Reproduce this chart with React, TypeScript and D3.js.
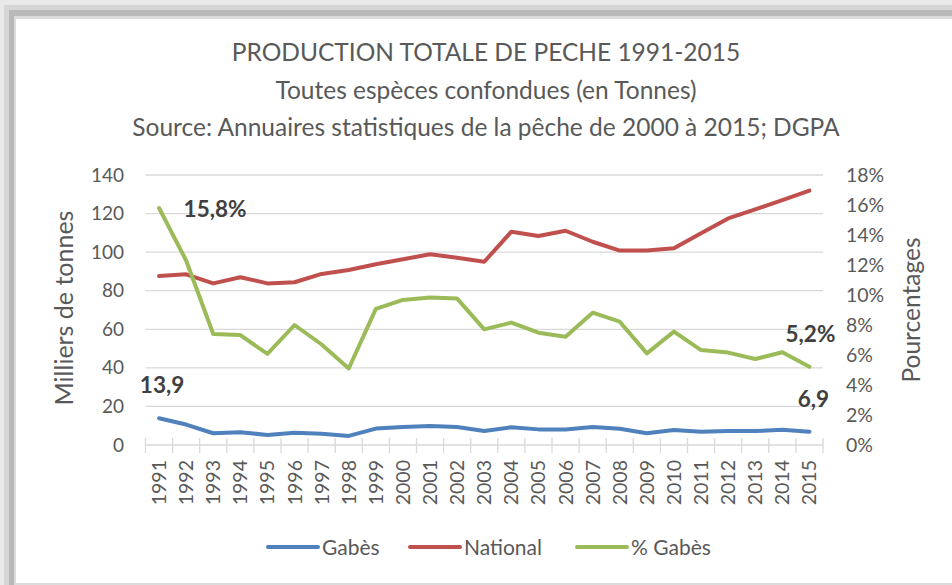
import { useEffect, useRef } from "react";
import * as d3 from "d3";

const years = [
  "1991", "1992", "1993", "1994", "1995", "1996", "1997", "1998", "1999", "2000",
  "2001", "2002", "2003", "2004", "2005", "2006", "2007", "2008", "2009", "2010",
  "2011", "2012", "2013", "2014", "2015",
];

// milliers de tonnes
const gabes = [
  13.9, 10.6, 6.1, 6.6, 5.2, 6.4, 5.8, 4.7, 8.5, 9.3,
  9.8, 9.3, 7.3, 9.2, 8.1, 8.0, 9.3, 8.4, 6.1, 7.8,
  6.9, 7.3, 7.2, 7.9, 6.9,
];
const national = [
  87.6, 88.5, 83.8, 87.0, 83.8, 84.4, 88.7, 90.7, 93.7, 96.3,
  98.9, 97.1, 95.0, 110.6, 108.4, 111.1, 105.4, 100.8, 100.8, 102.0,
  109.8, 117.5, 122.2, 127.0, 131.9,
];
// pourcentages
const pctGabes = [
  15.8, 12.3, 7.4, 7.33, 6.07, 8.0, 6.7, 5.1, 9.07, 9.67,
  9.84, 9.76, 7.71, 8.16, 7.49, 7.22, 8.82, 8.22, 6.11, 7.56,
  6.33, 6.16, 5.73, 6.18, 5.22,
];

const leftTicks = [0, 20, 40, 60, 80, 100, 120, 140];
const rightTicks = [0, 2, 4, 6, 8, 10, 12, 14, 16, 18];

const titleLines = [
  "PRODUCTION TOTALE DE PECHE 1991-2015",
  "Toutes espèces confondues (en Tonnes)",
  "Source: Annuaires statistiques de la pêche de 2000 à 2015; DGPA",
];

const legendItems = [
  { name: "Gabès", color: "#4f81bd" },
  { name: "National", color: "#c0504d" },
  { name: "% Gabès", color: "#9bbb59" },
];

function PecheChart() {
  const ref = useRef<SVGSVGElement>(null);

  useEffect(() => {
    const svg = d3.select(ref.current);
    svg.selectAll("*").remove();

    const width = 952;
    const height = 585;
    const font = "Lato, 'Open Sans', sans-serif";
    const textColor = "#595959";
    const plot = { left: 145.5, right: 823, top: 175, bottom: 445 };

    // frame / shadow
    svg.append("rect").attr("width", width).attr("height", height).attr("fill", "#e9e9e9");
    svg.append("rect").attr("x", 4).attr("y", 5).attr("width", width).attr("height", height).attr("fill", "#d6d6d6");
    svg.append("rect").attr("x", 9).attr("y", 10).attr("width", width).attr("height", height).attr("fill", "#b9b9b9");
    svg.append("rect").attr("x", 14).attr("y", 16).attr("width", width).attr("height", height).attr("fill", "#dcdcdc");
    svg.append("rect").attr("x", 16).attr("y", 19).attr("width", width).attr("height", 564).attr("fill", "#ffffff");

    const x = d3
      .scaleBand()
      .domain(years)
      .range([plot.left, plot.right])
      .padding(0);
    const cx = (d: string) => (x(d) as number) + x.bandwidth() / 2;

    const yLeft = d3.scaleLinear().domain([0, 140]).range([plot.bottom, plot.top]);
    const yRight = d3.scaleLinear().domain([0, 18]).range([plot.bottom, plot.top]);

    // titles
    svg
      .append("g")
      .selectAll("text")
      .data(titleLines)
      .join("text")
      .attr("x", 486)
      .attr("y", (d, i) => 61 + i * 37.5)
      .attr("text-anchor", "middle")
      .attr("font-family", font)
      .attr("font-size", 24.5)
      .attr("fill", textColor)
      .text((d) => d);

    // gridlines
    svg
      .append("g")
      .selectAll("line")
      .data(leftTicks.slice(1))
      .join("line")
      .attr("x1", plot.left)
      .attr("x2", plot.right)
      .attr("y1", (d) => yLeft(d))
      .attr("y2", (d) => yLeft(d))
      .attr("stroke", "#d9d9d9")
      .attr("stroke-width", 1.3);

    // x axis
    svg
      .append("line")
      .attr("x1", plot.left)
      .attr("x2", plot.right)
      .attr("y1", plot.bottom)
      .attr("y2", plot.bottom)
      .attr("stroke", "#d9d9d9")
      .attr("stroke-width", 1.3);

    const edges = years.map((d) => x(d) as number).concat([plot.right]);
    svg
      .append("g")
      .selectAll("line")
      .data(edges)
      .join("line")
      .attr("x1", (d) => d)
      .attr("x2", (d) => d)
      .attr("y1", plot.bottom - 7)
      .attr("y2", plot.bottom + 8)
      .attr("stroke", "#d9d9d9")
      .attr("stroke-width", 1.3);

    svg
      .append("g")
      .selectAll("text")
      .data(years)
      .join("text")
      .attr("transform", (d) => `translate(${cx(d) + 7},${plot.bottom + 15}) rotate(-90)`)
      .attr("text-anchor", "end")
      .attr("font-family", font)
      .attr("font-size", 19.5)
      .attr("fill", textColor)
      .text((d) => d);

    // left axis labels
    svg
      .append("g")
      .selectAll("text")
      .data(leftTicks)
      .join("text")
      .attr("x", 124)
      .attr("y", (d) => yLeft(d) + 6.5)
      .attr("text-anchor", "end")
      .attr("font-family", font)
      .attr("font-size", 19)
      .attr("fill", textColor)
      .text((d) => d);

    // right axis labels
    svg
      .append("g")
      .selectAll("text")
      .data(rightTicks)
      .join("text")
      .attr("x", 846)
      .attr("y", (d) => yRight(d) + 6.5)
      .attr("text-anchor", "start")
      .attr("font-family", font)
      .attr("font-size", 19.5)
      .attr("fill", textColor)
      .text((d) => d + "%");

    // axis titles
    svg
      .append("text")
      .attr("transform", "translate(73,308) rotate(-90)")
      .attr("text-anchor", "middle")
      .attr("font-family", font)
      .attr("font-size", 25)
      .attr("fill", textColor)
      .text("Milliers de tonnes");

    svg
      .append("text")
      .attr("transform", "translate(920,310) rotate(-90)")
      .attr("text-anchor", "middle")
      .attr("font-family", font)
      .attr("font-size", 24.5)
      .attr("fill", textColor)
      .text("Pourcentages");

    // lines
    const lineLeft = d3
      .line<number>()
      .x((d, i) => cx(years[i]))
      .y((d) => yLeft(d));
    const lineRight = d3
      .line<number>()
      .x((d, i) => cx(years[i]))
      .y((d) => yRight(d));

    const series = [
      { values: national, gen: lineLeft, color: legendItems[1].color },
      { values: pctGabes, gen: lineRight, color: legendItems[2].color },
      { values: gabes, gen: lineLeft, color: legendItems[0].color },
    ];
    series.forEach((s) => {
      svg
        .append("path")
        .datum(s.values)
        .attr("fill", "none")
        .attr("stroke", s.color)
        .attr("stroke-width", 4)
        .attr("stroke-linejoin", "round")
        .attr("stroke-linecap", "round")
        .attr("d", s.gen);
    });

    // data labels
    const last = years.length - 1;
    const labels = [
      { x: cx(years[0]) + 56, y: yRight(pctGabes[0]) + 9, text: "15,8%" },
      { x: cx(years[0]) + 3, y: yLeft(gabes[0]) - 25, text: "13,9" },
      { x: cx(years[last]) + 1, y: yRight(pctGabes[last]) - 25, text: "5,2%" },
      { x: cx(years[last]) + 4, y: yLeft(gabes[last]) - 25, text: "6,9" },
    ];
    svg
      .append("g")
      .selectAll("text")
      .data(labels)
      .join("text")
      .attr("x", (d) => d.x)
      .attr("y", (d) => d.y)
      .attr("text-anchor", "middle")
      .attr("font-family", font)
      .attr("font-size", 22.5)
      .attr("font-weight", "bold")
      .attr("fill", "#404040")
      .text((d) => d.text);

    // legend
    const legendX = [268, 410, 577];
    const legend = svg
      .append("g")
      .selectAll("g")
      .data(legendItems)
      .join("g")
      .attr("transform", (d, i) => `translate(${legendX[i]},547)`);
    legend
      .append("line")
      .attr("x1", 0)
      .attr("x2", 50)
      .attr("stroke", (d) => d.color)
      .attr("stroke-width", 4)
      .attr("stroke-linecap", "round");
    legend
      .append("text")
      .attr("x", 54)
      .attr("y", 7.5)
      .attr("font-family", font)
      .attr("font-size", 21)
      .attr("fill", textColor)
      .text((d) => d.name);
  }, []);

  return (
    <svg
      ref={ref}
      width="952"
      height="585"
      style={{ position: "absolute", left: 0, top: 0, display: "block" }}
    ></svg>
  );
}

export default function App() {
  return <PecheChart />;
}
